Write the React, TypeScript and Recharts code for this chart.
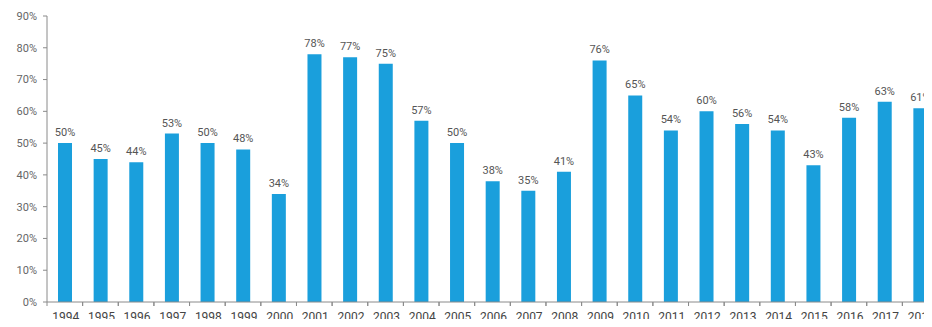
import { BarChart, Bar, XAxis, YAxis, LabelList } from "recharts";

const years = [
  "1994", "1995", "1996", "1997", "1998", "1999", "2000", "2001", "2002",
  "2003", "2004", "2005", "2006", "2007", "2008", "2009", "2010", "2011",
  "2012", "2013", "2014", "2015", "2016", "2017", "2018",
];

const shares = [
  50, 45, 44, 53, 50, 48, 34, 78, 77, 75, 57, 50, 38, 35, 41, 76, 65, 54, 60,
  56, 54, 43, 58, 63, 61,
];

const yTicks = [0, 10, 20, 30, 40, 50, 60, 70, 80, 90];

const data = years.map((year, i) => ({ year, share: shares[i] }));

const CHART_W = 938;
const AXIS_W = 47;
const BAND = (CHART_W - AXIS_W) / years.length;

function YearTick({ x, y, payload }: { x?: number; y?: number; payload?: { value: string } }) {
  if (x == null || y == null) return null;
  return (
    <g>
      <line x1={x - BAND / 2} x2={x - BAND / 2} y1={y - 8} y2={y - 4} stroke="#8a8a8a" />
      <line x1={x + BAND / 2} x2={x + BAND / 2} y1={y - 8} y2={y - 4} stroke="#8a8a8a" />
      <text
        x={x + 1}
        y={y + 11}
        textAnchor="middle"
        fill="#444"
        fontSize={12}
        fontFamily="Roboto, sans-serif"
      >
        {payload?.value}
      </text>
    </g>
  );
}

export default function App() {
  return (
    <div style={{ margin: -8, width: 932, height: 327, overflow: "hidden", background: "#fff" }}>
      <BarChart
        width={CHART_W}
        height={327}
        data={data}
        margin={{ top: 16, right: 0, left: 0, bottom: 0 }}
        barCategoryGap={0}
      >
        <XAxis
          dataKey="year"
          height={25}
          axisLine={{ stroke: "#8a8a8a" }}
          tickLine={false}
          interval={0}
          tick={<YearTick />}
        />
        <YAxis
          width={AXIS_W}
          domain={[0, 90]}
          ticks={yTicks}
          tickFormatter={(v: number) => `${v}%`}
          axisLine={{ stroke: "#8a8a8a" }}
          tickLine={{ stroke: "#8a8a8a" }}
          tickSize={4}
          tickMargin={6}
          tick={{ fill: "#666", fontSize: 11, fontFamily: "Roboto, sans-serif" }}
        />
        <Bar dataKey="share" fill="#1a9fdc" barSize={14} isAnimationActive={false}>
          <LabelList
            dataKey="share"
            position="top"
            offset={7}
            formatter={(v: number) => `${v}%`}
            fill="#555"
            fontSize={11}
            fontFamily="Roboto, sans-serif"
          />
        </Bar>
      </BarChart>
    </div>
  );
}
